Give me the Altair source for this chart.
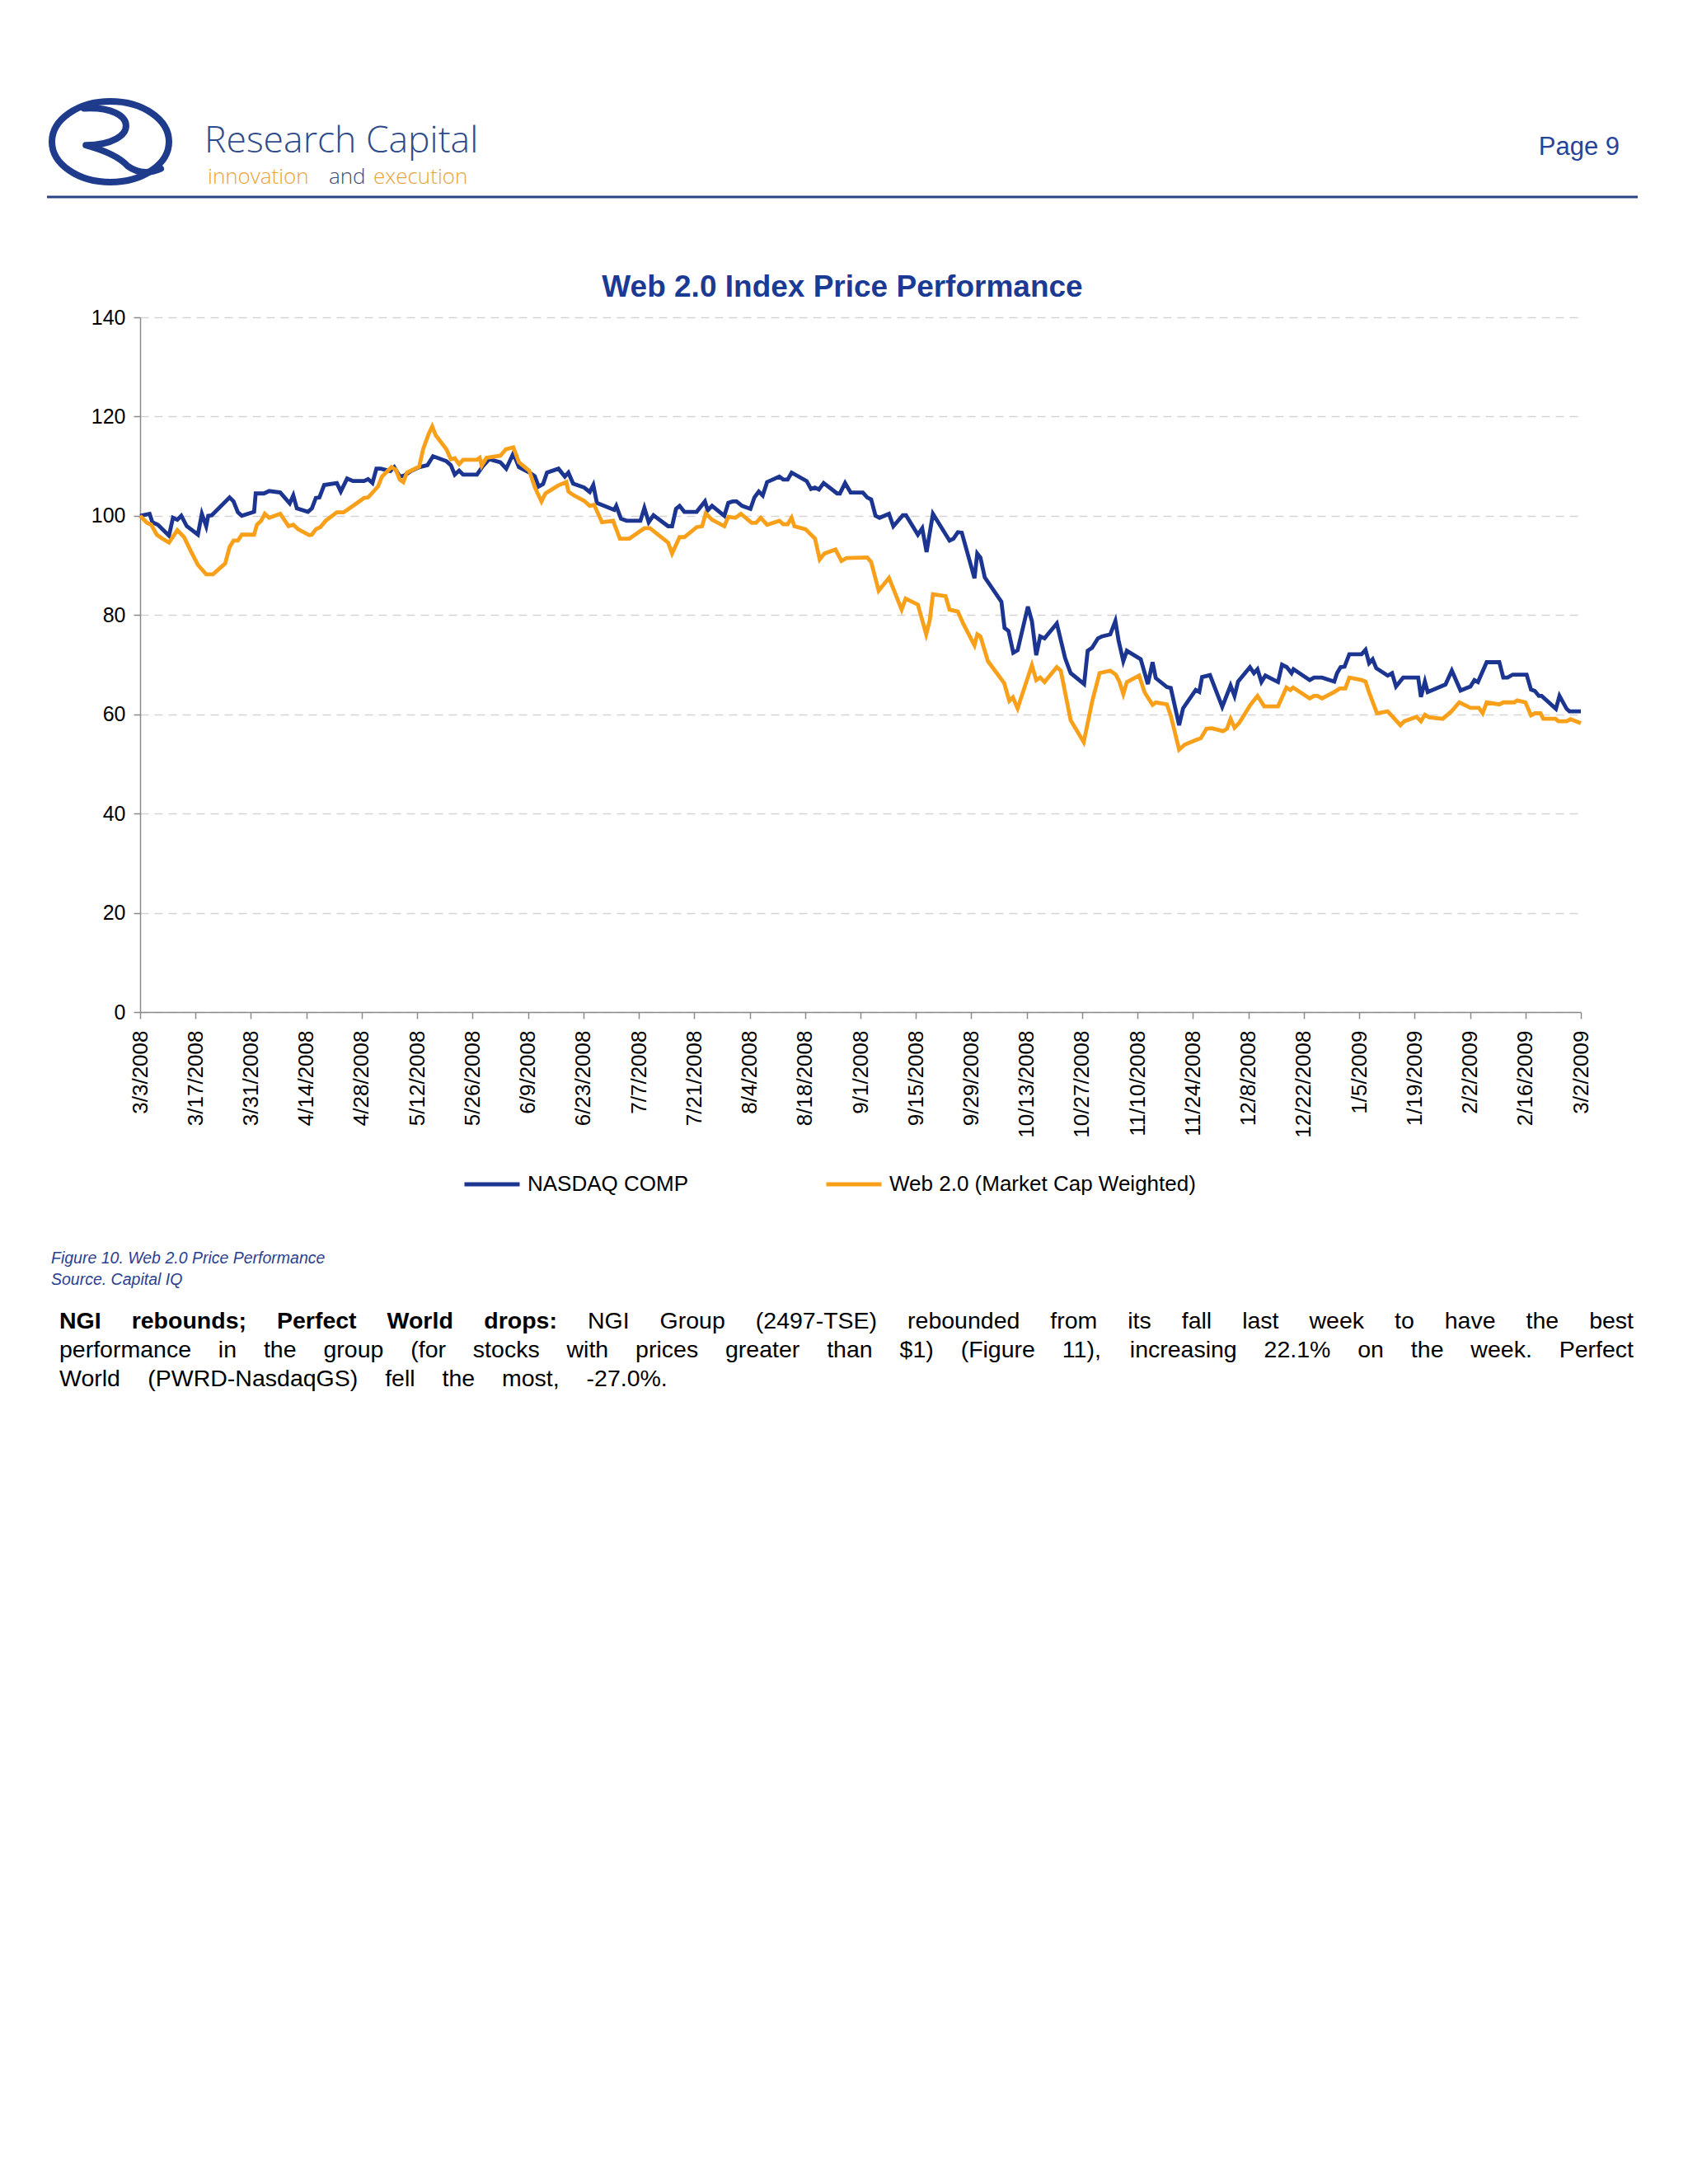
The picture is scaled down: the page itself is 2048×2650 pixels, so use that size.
import altair as alt
import pandas as pd

# ---------------- data (day offsets from 3/3/2008, index level) ----------------
nasdaq_day = [0, 2.4, 3.1, 4.5, 7.3, 8.3, 9.4, 10.4, 11.8, 14.6, 15.6, 16.7, 17.2, 18.1, 22.6, 23.6, 24.7, 25.7,
              28.8, 29.2, 31.3, 32.6, 35.4, 37.8, 38.7, 39.6, 42.4, 43.4, 44.4, 45.3, 46.5, 49.7, 50.7, 52.3, 53.8,
              56.6, 57.6, 58.7, 59.7, 60.8, 63.2, 64.2, 65.6, 66.7, 68.4, 70.5, 72.6, 74.0, 77.4, 78.5, 79.5, 80.6,
              81.6, 85.1, 86.5, 88.2, 91.0, 92.5, 94.3, 95.7, 98.6, 99.7, 100.7, 101.8, 102.8, 105.7, 107.3, 108.2,
              109.4, 112.2, 113.6, 114.5, 115.4, 119.8, 120.3, 121.5, 122.9, 126.4, 127.4, 128.5, 129.7, 133.4, 134.4,
              135.4, 136.3, 137.5, 140.6, 142.7, 143.4, 144.5, 147.6, 148.6, 149.7, 150.7, 152.1, 154.2, 155.2, 156.3,
              157.3, 158.4, 161.5, 162.5, 163.6, 164.6, 168.4, 169.5, 170.5, 171.5, 172.7, 176.1, 176.8, 178.1, 179.5,
              182.6, 183.7, 184.7, 185.8, 186.8, 189.2, 190.3, 192.7, 193.5, 196.5, 197.6, 198.7, 200.3, 204.5, 205.5,
              206.6, 207.6, 210.8, 211.5, 212.3, 213.4, 217.6, 218.4, 219.4, 220.6, 221.7, 224.3, 225.3, 226.4, 227.4,
              228.5, 231.6, 233.7, 235.1, 238.5, 239.4, 240.5, 242.0, 243.0, 245.1, 246.4, 247.2, 248.4, 249.3, 252.8,
              254.6, 255.8, 256.6, 259.4, 260.4, 262.5, 263.5, 266.7, 267.6, 268.3, 270.3, 273.4, 275.5, 276.5, 277.4,
              280.4, 281.4, 282.3, 283.3, 284.3, 287.5, 288.5, 289.7, 290.9, 291.4, 295.5, 296.6, 298.6, 301.7, 302.4,
              303.3, 304.3, 305.5, 308.6, 309.6, 310.5, 311.4, 312.3, 315.2, 316.3, 317.3, 319.1, 322.9, 323.6, 324.6,
              325.3, 329.8, 331.4, 333.6, 336.1, 337.1, 338.0, 340.2, 343.4, 344.4, 345.5, 346.8, 350.3, 351.4, 352.4,
              353.4, 354.1, 357.7, 358.6, 360.4, 361.1, 364]
nasdaq_val = [100, 100.4, 98.7, 98.2, 96.0, 99.6, 99.2, 100.0, 97.9, 96.2, 100.4, 97.9, 100.0, 100.1, 103.7, 102.9,
              100.7, 100.0, 100.8, 104.5, 104.5, 105.0, 104.7, 102.5, 104.1, 101.5, 100.8, 101.5, 103.6, 103.7, 106.2,
              106.6, 104.9, 107.5, 107.0, 107.0, 107.4, 106.6, 109.5, 109.5, 109.0, 109.8, 107.9, 108.1, 109.0, 109.8,
              110.2, 112.0, 111.0, 110.2, 108.3, 109.1, 108.3, 108.3, 109.9, 111.4, 110.8, 109.5, 112.6, 109.8, 108.6,
              108.0, 105.9, 106.4, 108.7, 109.5, 107.9, 108.7, 106.5, 105.7, 104.8, 106.2, 102.6, 101.2, 102.0, 99.4,
              99.0, 99.0, 101.6, 98.7, 100.1, 97.9, 97.9, 101.4, 102.0, 100.8, 100.8, 102.9, 101.1, 102.0, 100.0, 102.6,
              102.9, 102.9, 102.0, 101.4, 103.7, 104.9, 104.1, 106.8, 107.9, 107.3, 107.3, 108.7, 107.0, 105.4, 105.7,
              105.3, 106.6, 104.5, 104.5, 106.6, 104.7, 104.7, 103.7, 103.3, 100.0, 99.6, 100.4, 97.9, 100.1, 100.1,
              96.2, 97.5, 92.7, 100.4, 95.0, 95.4, 96.7, 96.6, 87.4, 92.4, 91.6, 87.6, 82.7, 77.4, 76.8, 72.4, 72.9,
              81.7, 78.8, 71.9, 75.7, 75.3, 78.3, 71.3, 68.3, 66.1, 72.8, 73.4, 75.3, 75.7, 76.1, 78.8, 74.9, 70.7,
              72.8, 71.1, 66.1, 70.5, 67.3, 65.5, 65.3, 57.8, 61.2, 64.9, 64.5, 67.5, 67.9, 61.5, 65.8, 63.7, 66.6,
              69.5, 68.3, 69.1, 66.5, 67.8, 66.5, 70.0, 69.5, 68.3, 69.1, 66.9, 67.4, 67.4, 66.6, 68.3, 69.5, 69.6,
              72.1, 72.1, 73.0, 70.3, 71.1, 69.3, 67.8, 68.3, 65.6, 67.4, 67.4, 63.5, 66.6, 64.5, 66.0, 68.8, 64.8,
              65.6, 66.9, 66.5, 70.5, 70.5, 67.4, 67.4, 68.0, 68.0, 65.0, 64.7, 63.7, 63.7, 61.1, 63.7, 61.1, 60.6, 60.6]

web_day = [0, 1.7, 2.8, 4.2, 5.6, 7.3, 9.4, 11.1, 12.8, 14.6, 16.7, 18.4, 21.5, 22.6, 23.6, 24.7, 25.7, 28.8, 29.5,
           30.6, 31.5, 32.6, 35.4, 37.5, 38.7, 39.9, 42.7, 43.4, 44.4, 45.5, 46.9, 49.7, 51.4, 53.8, 56.6, 57.6, 60.1,
           61.1, 63.5, 64.6, 65.6, 66.5, 67.4, 70.5, 71.5, 72.9, 73.8, 74.7, 77.4, 78.5, 79.5, 80.6, 81.6, 85.1, 85.8,
           86.3, 87.5, 91.0, 92.4, 94.3, 95.7, 98.3, 99.7, 101.4, 102.4, 105.6, 107.7, 108.2, 109.4, 112.2, 113.6,
           114.7, 116.7, 119.5, 121.2, 123.6, 127.4, 128.8, 133.4, 134.4, 136.3, 137.5, 140.6, 142.0, 142.9, 144.5,
           147.6, 148.6, 150.4, 151.8, 154.5, 155.6, 156.8, 158.4, 161.5, 162.5, 163.6, 164.6, 165.3, 168.1, 170.5,
           171.7, 172.9, 175.7, 177.2, 178.5, 183.7, 184.7, 186.6, 189.2, 192.4, 193.4, 196.5, 198.6, 199.5, 200.3,
           203.5, 204.5, 206.6, 208.0, 210.8, 211.5, 212.3, 214.2, 218.3, 219.6, 220.5, 221.7, 225.3, 226.4, 227.4,
           228.5, 231.6, 232.6, 235.1, 238.4, 240.6, 242.4, 245.1, 246.5, 247.4, 248.4, 249.3, 252.4, 253.8, 255.8,
           256.6, 259.4, 260.4, 262.5, 263.9, 266.7, 268.0, 269.4, 270.8, 273.6, 274.6, 275.5, 276.5, 277.7, 280.5,
           282.3, 284.0, 287.5, 289.6, 290.6, 291.3, 295.5, 296.6, 297.5, 298.6, 301.7, 303.1, 304.5, 305.5, 308.6,
           309.6, 310.5, 312.5, 315.2, 318.4, 319.4, 322.5, 323.6, 324.6, 325.7, 329.1, 331.2, 333.3, 336.1, 338.2,
           339.2, 340.2, 343.4, 344.4, 347.2, 347.9, 350.0, 351.4, 352.4, 353.8, 354.5, 357.6, 358.3, 360.4, 361.4, 364]
web_val = [100, 98.6, 98.2, 96.2, 95.4, 94.6, 97.1, 95.7, 92.9, 90.1, 88.2, 88.2, 90.4, 93.7, 95.0, 95.0, 96.2, 96.2,
           98.2, 99.0, 100.4, 99.6, 100.4, 97.9, 98.2, 97.3, 96.1, 96.2, 97.3, 97.7, 99.0, 100.7, 100.7, 102.0, 103.6,
           103.7, 105.9, 107.9, 109.8, 109.3, 107.3, 106.8, 108.7, 109.9, 113.4, 116.5, 118.0, 116.2, 113.4, 111.4,
           111.6, 110.4, 111.3, 111.3, 111.7, 110.1, 111.7, 112.1, 113.4, 113.8, 110.8, 109.1, 105.8, 102.9, 104.5,
           106.1, 106.8, 104.9, 104.2, 103.0, 102.0, 102.2, 98.7, 99.0, 95.4, 95.4, 97.5, 97.5, 94.6, 92.4, 95.7,
           95.7, 97.7, 97.9, 100.5, 99.2, 97.9, 99.8, 99.6, 100.4, 98.6, 98.6, 99.6, 98.2, 99.0, 98.3, 98.3, 99.6,
           97.9, 97.3, 95.4, 91.2, 92.4, 93.2, 90.9, 91.5, 91.6, 90.7, 84.9, 87.5, 81.1, 83.3, 82.1, 76.1, 78.9, 84.2,
           83.8, 81.1, 80.7, 78.2, 73.9, 76.1, 75.7, 70.7, 66.3, 62.7, 63.4, 61.2, 69.9, 66.9, 67.4, 66.5, 69.5, 68.8,
           58.8, 54.4, 62.8, 68.3, 68.8, 68.0, 66.6, 64.1, 66.5, 67.8, 64.4, 61.9, 62.4, 62.0, 59.7, 52.9, 53.9, 54.8,
           55.2, 57.1, 57.2, 56.6, 57.1, 59.1, 57.3, 58.3, 61.9, 63.7, 61.6, 61.6, 65.4, 64.9, 65.4, 63.2, 63.7, 63.7,
           63.2, 64.5, 65.2, 65.2, 67.4, 66.9, 66.6, 64.4, 60.2, 60.6, 57.8, 58.6, 59.5, 58.6, 59.9, 59.4, 59.1, 60.5,
           62.4, 61.3, 61.3, 60.2, 62.4, 62.0, 62.4, 62.4, 62.8, 62.4, 59.8, 60.2, 60.2, 59.1, 59.1, 58.6, 58.6, 59.0,
           58.2]

series_names = ["NASDAQ COMP", "Web 2.0 (Market Cap Weighted)"]
series_colors = ["#1B3591", "#F8A01A"]

tick_days = list(range(0, 365, 14))
tick_labels = ["3/3/2008", "3/17/2008", "3/31/2008", "4/14/2008", "4/28/2008", "5/12/2008", "5/26/2008",
               "6/9/2008", "6/23/2008", "7/7/2008", "7/21/2008", "8/4/2008", "8/18/2008", "9/1/2008",
               "9/15/2008", "9/29/2008", "10/13/2008", "10/27/2008", "11/10/2008", "11/24/2008", "12/8/2008",
               "12/22/2008", "1/5/2009", "1/19/2009", "2/2/2009", "2/16/2009", "3/2/2009"]
y_ticks = [0, 20, 40, 60, 80, 100, 120, 140]

title_text = "Web 2.0 Index Price Performance"
caption_lines = ["Figure 10. Web 2.0 Price Performance", "Source. Capital IQ"]
para_bold = "NGI rebounds; Perfect World drops:"
para_lines = [
    "NGI rebounds; Perfect World drops: NGI Group (2497-TSE) rebounded from its fall last week to have the best",
    "performance in the group (for stocks with prices greater than $1) (Figure 11), increasing 22.1% on the week. Perfect",
    "World (PWRD-NasdaqGS) fell the most, -27.0%.",
]

# ---------------- layout helpers ----------------
W, H = 1748, 843
FONT = "Liberation Sans"

REG = {' ': 278, '(': 333, ')': 333, '$': 556, '%': 889, ',': 278, '-': 333, '.': 278, ':': 278, ';': 278,
       'A': 667, 'C': 722, 'D': 722, 'E': 667, 'F': 611, 'G': 778, 'I': 278, 'N': 722, 'P': 667, 'Q': 778,
       'R': 722, 'S': 667, 'T': 611, 'W': 944, 'a': 556, 'b': 556, 'c': 500, 'd': 556, 'e': 556, 'f': 278,
       'g': 556, 'h': 556, 'i': 222, 'k': 500, 'l': 222, 'm': 833, 'n': 556, 'o': 556, 'p': 556, 'q': 556,
       'r': 333, 's': 500, 't': 278, 'u': 556, 'v': 500, 'w': 722, 'x': 500, 'y': 500}
BLD = {' ': 278, ';': 333, ':': 333, 'G': 778, 'I': 278, 'N': 722, 'P': 667, 'W': 944, 'b': 611, 'c': 556,
       'd': 611, 'e': 556, 'f': 333, 'l': 278, 'n': 611, 'o': 611, 'p': 611, 'r': 389, 's': 556, 't': 333,
       'u': 611}


def wwidth(word, bold, fs):
    tab = BLD if bold else REG
    return sum(tab.get(c, 556) for c in word) * fs / 1000.0


PFS = 28.5
left, right = -98, 1812
baselines = [1227, 1262, 1297]
nbold = len(para_bold.split())
rows = []
gap2 = None
for li, line in enumerate(para_lines):
    words = line.split()
    flags = [(li == 0 and i < nbold) for i in range(len(words))]
    widths = [wwidth(w, b, PFS) for w, b in zip(words, flags)]
    if li < 2:
        gap = (right - left - sum(widths)) / (len(words) - 1)
        if li == 1:
            gap2 = gap
    else:
        gap = gap2
    x = left
    for w, b, ww in zip(words, flags, widths):
        rows.append({"word": w, "px": x, "py": baselines[li], "bold": b})
        x += ww + gap
para_df = pd.DataFrame(rows)

# ---------------- chart ----------------
df_n = pd.DataFrame({"day": nasdaq_day, "value": nasdaq_val, "series": series_names[0]})
df_w = pd.DataFrame({"day": web_day, "value": web_val, "series": series_names[1]})

label_expr = "[" + ",".join("'%s'" % s for s in tick_labels) + "][round(datum.value / 14)]"

x_enc = alt.X("day:Q",
              scale=alt.Scale(domain=[0, 364], nice=False, zero=False),
              axis=alt.Axis(values=tick_days, labelExpr=label_expr, labelAngle=270, labelAlign="right",
                            labelBaseline="middle", labelFont=FONT, labelFontSize=26, labelColor="#000000",
                            labelPadding=14, tickSize=8, tickColor="#8a8a8a", tickWidth=1.5,
                            domainColor="#8a8a8a", domainWidth=1.5, grid=False, title=None,
                            labelOverlap=False, labelFlush=False))
y_enc = alt.Y("value:Q",
              scale=alt.Scale(domain=[0, 140], nice=False, zero=True),
              axis=alt.Axis(values=y_ticks, grid=True, gridDash=[10, 7], gridColor="#d4d4d4", gridWidth=1.5,
                            labelFont=FONT, labelFontSize=25, labelColor="#000000", labelPadding=10,
                            tickSize=8, tickColor="#8a8a8a", tickWidth=1.5, domainColor="#8a8a8a",
                            domainWidth=1.5, title=None))
color_enc = alt.Color("series:N",
                      scale=alt.Scale(domain=series_names, range=series_colors),
                      legend=alt.Legend(title=None, orient="none", legendX=391, legendY=1016,
                                        direction="horizontal", symbolType="stroke", symbolSize=4489,
                                        symbolStrokeWidth=5, labelFont=FONT, labelFontSize=26,
                                        labelColor="#000000", labelOffset=7, columnPadding=156, padding=0,
                                        labelLimit=600))

line_n = alt.Chart(df_n).mark_line(strokeWidth=4.8).encode(x=x_enc, y=y_enc, color=color_enc)
line_w = alt.Chart(df_w).mark_line(strokeWidth=4.8).encode(x=x_enc, y=y_enc, color=color_enc)

one = pd.DataFrame({"k": [0]})


def txt(text, x, y, **kw):
    d = pd.DataFrame({"t": [text]})
    return alt.Chart(d).mark_text(**kw).encode(x=alt.value(x), y=alt.value(y), text="t:N")


ELLIPSE = ("M -1 0 C -1 -0.381 -0.5523 -0.69 0 -0.69 C 0.5523 -0.69 1 -0.381 1 0 "
           "C 1 0.381 0.5523 0.69 0 0.69 C -0.5523 0.69 -1 0.381 -1 0 Z")
RLEG = "M -0.45 -0.57 C 0.5 -0.62 0.5 0.05 -0.42 0.06 Q 0.1 0.2 0.3 0.42 Q 0.55 0.6 0.86 0.46"

logo_ring = alt.Chart(one).mark_point(shape=ELLIPSE, size=20164, filled=False, stroke="#1F3C8C",
                                      strokeWidth=8, opacity=1).encode(x=alt.value(-36), y=alt.value(-213))
logo_r = alt.Chart(one).mark_point(shape=RLEG, size=20164, filled=False, stroke="#1F3C8C",
                                   strokeWidth=8, opacity=1, strokeCap="round",
                                   strokeJoin="round").encode(x=alt.value(-36), y=alt.value(-213))

brand = txt("Research Capital", 78, -200, font="Open Sans", fontSize=44.5, fontWeight=300, color="#2F4B8C",
            align="left", baseline="alphabetic")
tag1 = txt("innovation", 82, -162, font="Open Sans", fontSize=26, fontWeight=300, color="#E8A33C",
           align="left", baseline="alphabetic")
tag2 = txt("and", 229, -162, font="Open Sans", fontSize=26, fontWeight=300, color="#3D4C78",
           align="left", baseline="alphabetic")
tag3 = txt("execution", 283, -162, font="Open Sans", fontSize=26, fontWeight=300, color="#E8A33C",
           align="left", baseline="alphabetic")
page = txt("Page 9", 1795, -197, font=FONT, fontSize=31, color="#27449A", align="right", baseline="alphabetic")
hrule = alt.Chart(one).mark_rule(color="#2A4483", strokeWidth=3).encode(
    x=alt.value(-113), x2=alt.value(1817), y=alt.value(-146))
title = txt(title_text, 852, -25, font=FONT, fontSize=37, fontWeight="bold", color="#1B3A93",
            align="center", baseline="alphabetic")
cap1 = txt(caption_lines[0], -108, 1148, font=FONT, fontSize=19.5, fontStyle="italic", color="#2A3F8F",
           align="left", baseline="alphabetic")
cap2 = txt(caption_lines[1], -108, 1174, font=FONT, fontSize=19.5, fontStyle="italic", color="#2A3F8F",
           align="left", baseline="alphabetic")

para_b = alt.Chart(para_df[para_df["bold"]]).mark_text(
    font=FONT, fontSize=PFS, fontWeight="bold", color="#000000", align="left", baseline="alphabetic").encode(
    x=alt.X("px:Q", scale=None), y=alt.Y("py:Q", scale=None), text="word:N")
para_n = alt.Chart(para_df[~para_df["bold"]]).mark_text(
    font=FONT, fontSize=PFS, color="#000000", align="left", baseline="alphabetic").encode(
    x=alt.X("px:Q", scale=None), y=alt.Y("py:Q", scale=None), text="word:N")

chart = alt.layer(
    line_n, line_w, logo_ring, logo_r, brand, tag1, tag2, tag3, page, hrule, title, cap1, cap2, para_b, para_n
).properties(
    width=W, height=H,
    padding={"left": 162, "top": 377, "right": 122, "bottom": 520},
    autosize=alt.AutoSizeParams(type="none"),
    background="#ffffff",
).configure_view(stroke=None)

chart.save("out.html", embed_options={"renderer": "svg", "actions": False})
